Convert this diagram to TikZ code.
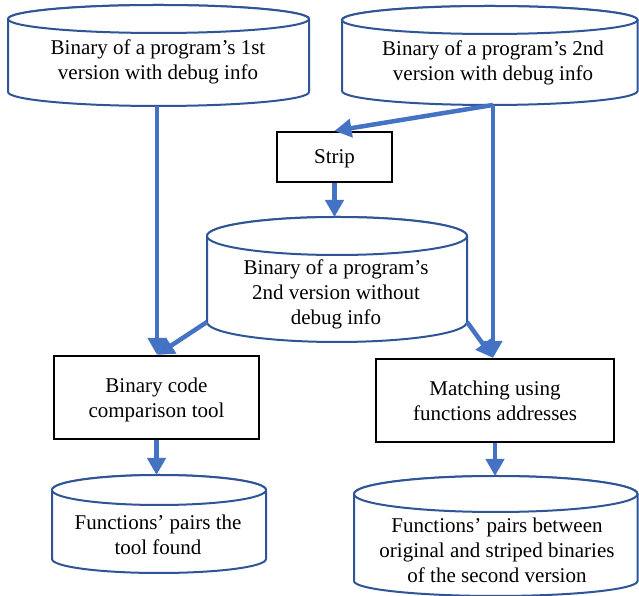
\documentclass[tikz,border=0pt]{standalone}
\usepackage{fontspec}
\setmainfont{Liberation Serif}
\usetikzlibrary{arrows.meta}
\definecolor{arrowblue}{HTML}{4472C4}
\definecolor{cylblue}{HTML}{2F5597}
\newcommand\mycylinder[6]{%
  \pgfmathsetmacro\cylcx{(#1+#2)/2}%
  \pgfmathsetmacro\cylrx{(#2-#1)/2}%
  \filldraw[cyl] (#1,#3) -- (#1,#4) arc[start angle=180,end angle=360,x radius=\cylrx pt,y radius=#6 pt] -- (#2,#3) arc[start angle=0,end angle=180,x radius=\cylrx pt,y radius=#5 pt] -- cycle;
  \draw[cyl] (\cylcx,#3) ellipse[x radius=\cylrx pt,y radius=#5 pt];
}
\begin{document}
\begin{tikzpicture}[x=1pt,y=1pt,
  cyl/.style={draw=cylblue, line width=2pt, fill=white},
  procbox/.style={draw=black, line width=2.2pt, fill=white, align=center, font=\fontsize{21}{25}\selectfont, inner sep=0pt, text depth=0pt},
  txt/.style={align=center, font=\fontsize{21}{25}\selectfont, inner sep=0pt},
  flow/.style={draw=arrowblue, line width=4.5pt, -{Triangle[length=17pt,width=18pt]}}
]
\useasboundingbox (0,0) rectangle (639,596);
% cylinders
\mycylinder{8}{309}{577}{504}{14}{14}
\mycylinder{342}{637.5}{576}{505}{14}{14}
\mycylinder{207}{467}{360}{274}{19}{20}
\mycylinder{52}{266}{106}{37}{15}{14}
\mycylinder{354}{637.5}{102}{15}{18}{15}
% cylinder texts
\node[txt] (c1) at (158,534.5) {Binary of a program’s 1st\\version with debug info};
\node[txt] (c2) at (493,533.5) {Binary of a program’s 2nd\\version with debug info};
\node[txt] (c3) at (336,302) {Binary of a program’s\\2nd version without\\debug info};
\node[txt] (c4) at (158,61) {Functions’ pairs the\\tool found};
\node[txt] (c5) at (497,46) {Functions’ pairs between\\original and striped binaries\\of the second version};
% boxes
\node[procbox, minimum width=115pt, minimum height=50pt] (strip) at (334.5,439) {Strip};
\node[procbox, minimum width=205pt, minimum height=83pt] (bcc) at (156.5,198.5) {Binary code\\comparison tool};
\node[procbox, minimum width=238pt, minimum height=83pt] (match) at (495,195.5) {Matching using\\functions addresses};
% connector points
\coordinate (c1b) at (157,490);
\coordinate (c2b) at (493,491);
\coordinate (c3t) at (335,379);
\coordinate (c3l) at (207,274);
\coordinate (c3r) at (467,274);
\coordinate (c4t) at (157,121);
\coordinate (c5t) at (495,120);
% connectors
\draw[flow] (c1b) -- (c1b |- bcc.north);
\draw[flow] (c3l) -- (c1b |- bcc.north);
\draw[flow] (c2b) -- (strip.north);
\draw[flow] (c2b) -- (c2b |- match.north);
\draw[flow] (strip.south) -- (strip.south |- c3t);
\draw[flow] (c3r) -- (c2b |- match.north);
\draw[flow] (bcc.south) -- (bcc.south |- c4t);
\draw[flow] (match.south) -- (match.south |- c5t);
\end{tikzpicture}
\end{document}
